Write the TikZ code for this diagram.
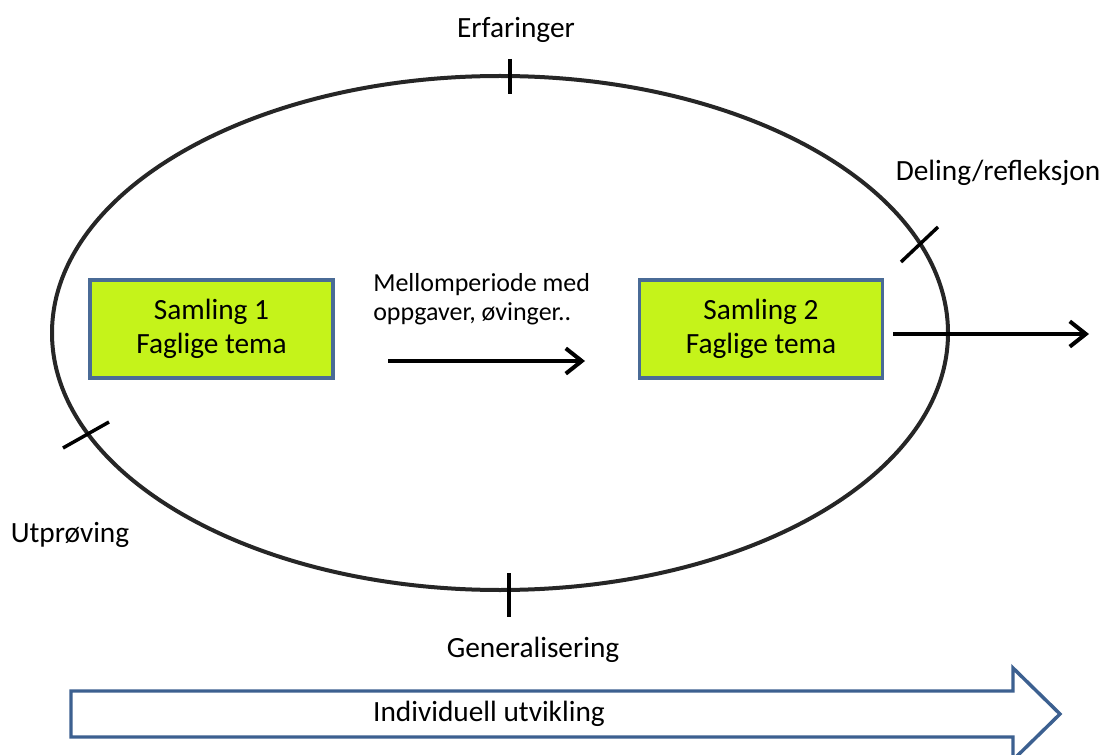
\documentclass[tikz,border=0pt]{standalone}
\usepackage{fontspec}
\setmainfont{Carlito}
\usetikzlibrary{arrows.meta}
\definecolor{boxgreen}{HTML}{C5F31A}
\definecolor{boxedge}{HTML}{4A6B96}
\definecolor{bigarrow}{HTML}{3C6090}
\tikzset{
  samling/.style={draw=boxedge, line width=2.4pt, fill=boxgreen, minimum width=243*0.75pt, minimum height=98*0.75pt, align=center, font=\fontsize{22}{25.5}\selectfont, inner sep=0pt},
  lbl/.style={font=\fontsize{22}{26}\selectfont, inner sep=0pt},
  tick/.style={line width=2.6pt, line cap=butt},
  flow/.style={line width=3.5pt, -{Straight Barb[length=12pt,width=19pt,line width=3pt]}},
}
\begin{document}
\begin{tikzpicture}[x=0.75pt,y=-0.75pt]
\useasboundingbox (0,0) rectangle (1102,755);
% ellipse
\draw[line width=3pt, black!85] (500,333) ellipse [x radius=448, y radius=257];
% ticks
\draw[tick] (510,59) -- (510,94);
\draw[tick] (509,573) -- (509,617);
\draw[tick] (901,262) -- (938,227);
\draw[tick] (63,448) -- (109,422);
% labels
\node[lbl] (erf) at (516,30) {Erfaringer};
\node[lbl] (del) at (998,173) {Deling/refleksjon};
\node[lbl] (utp) at (70,535) {Utprøving};
\node[lbl] (gen) at (533,650) {Generalisering};
% boxes
\node[samling] (s1) at (211.5,329) {Samling 1\\Faglige tema};
\node[samling] (s2) at (761,329) {Samling 2\\Faglige tema};
% middle text
\node[lbl, anchor=west, align=left, font=\fontsize{19.5}{22}\selectfont] (mel) at (373,299) {Mellomperiode med\\oppgaver, øvinger..};
% arrows
\coordinate (a1) at (388,361);
\coordinate (a2) at (585,361);
\draw[flow] (a1) -- (a2);
\coordinate (b1) at ([xshift=9*0.75pt]s2.east |- 0,334);
\coordinate (b2) at (1089,334);
\draw[flow] (b1) -- (b2);
% big block arrow
\draw[draw=bigarrow, line width=2.6pt, fill=white, line join=miter]
  (71,691) -- (1013,691) -- (1013,668) -- (1060,714) -- (1013,760) -- (1013,737) -- (71,737) -- cycle;
\node[lbl] (ind) at (489,714) {Individuell utvikling};
\end{tikzpicture}
\end{document}
